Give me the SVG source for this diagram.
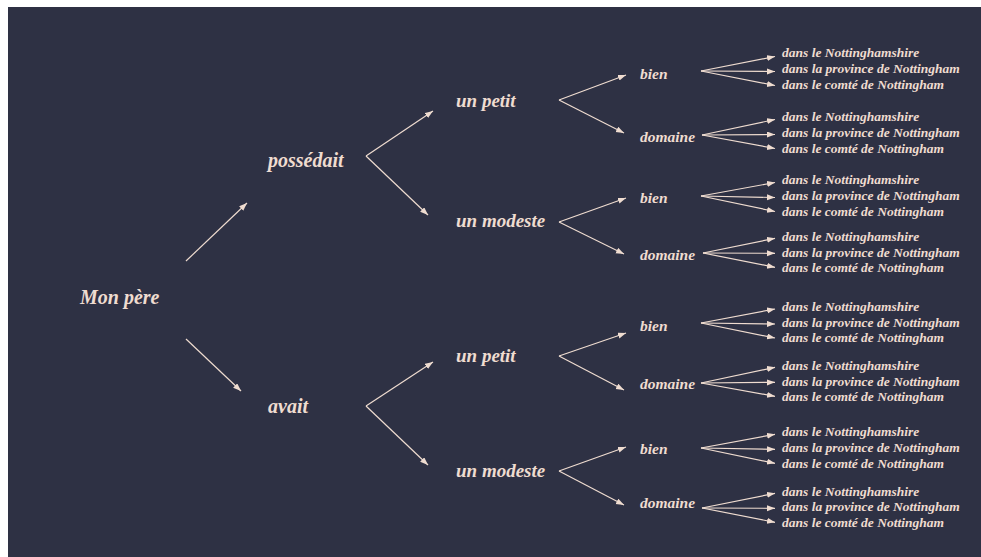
<svg xmlns="http://www.w3.org/2000/svg" width="981" height="557" viewBox="0 0 981 557">
<style>
text{font-family:"Liberation Serif","Times New Roman",serif;font-style:italic;font-weight:bold;fill:#efdcd0}
.l0{font-size:20px}.l2{font-size:19px}.l3{font-size:15.5px}.lf{font-size:13.5px}
#connectors path{stroke:#efdcd0;stroke-width:1.2;fill:none;marker-end:url(#ah)}
</style>
<defs>
<marker id="ah" markerUnits="userSpaceOnUse" markerWidth="9" markerHeight="7" refX="8" refY="3" orient="auto"><path d="M0,0 L8,3 L0,6 z" fill="#efdcd0"/></marker>
</defs>
<rect x="8" y="7" width="973" height="550" fill="#2e3144"/>
<g id="connectors">
<path d="M186,261 L247,203"/><path d="M186,339 L241,391"/>
<path d="M366,156 L433,111"/><path d="M366,156 L428,215"/>
<path d="M366,406 L433,362"/><path d="M366,406 L428,465"/>
<path d="M559,100 L626,75"/><path d="M559,100 L624,133"/>
<path d="M559,222 L626,198"/><path d="M559,222 L624,254"/>
<path d="M559,356 L626,333"/><path d="M559,356 L624,390"/>
<path d="M559,471 L626,447"/><path d="M559,471 L624,505"/>
<path d="M701,71 L775,56.5"/><path d="M701,71 L775,71.5"/><path d="M701,71 L775,85.5"/>
<path d="M702,135 L775,119.5"/><path d="M702,135 L775,134.5"/><path d="M702,135 L775,148.5"/>
<path d="M701,196 L775,182.5"/><path d="M701,196 L775,197.5"/><path d="M701,196 L775,211.5"/>
<path d="M703,253 L775,238.3"/><path d="M703,253 L775,253.3"/><path d="M703,253 L775,267.3"/>
<path d="M701,323 L775,309"/><path d="M701,323 L775,324"/><path d="M701,323 L775,338"/>
<path d="M701,383 L775,367.3"/><path d="M701,383 L775,382.3"/><path d="M701,383 L775,396.3"/>
<path d="M701,448 L775,434.3"/><path d="M701,448 L775,449.3"/><path d="M701,448 L775,463.3"/>
<path d="M702,508 L775,493.3"/><path d="M702,508 L775,508.3"/><path d="M702,508 L775,522.3"/>
</g>
<g id="n-monpere"><text class="l0" x="80" y="304">Mon père</text></g>
<g id="n-possedait"><text class="l0" x="268" y="167">possédait</text></g>
<g id="n-avait"><text class="l0" x="268" y="413">avait</text></g>
<g id="n-petit1"><text class="l2" x="456" y="107">un petit</text></g>
<g id="n-modeste1"><text class="l2" x="456" y="227">un modeste</text></g>
<g id="n-petit2"><text class="l2" x="456" y="362">un petit</text></g>
<g id="n-modeste2"><text class="l2" x="456" y="477">un modeste</text></g>
<g id="n-bien1"><text class="l3" x="640" y="79">bien</text></g>
<g id="n-domaine1"><text class="l3" x="640" y="141.5">domaine</text></g>
<g id="n-bien2"><text class="l3" x="640" y="203.3">bien</text></g>
<g id="n-domaine2"><text class="l3" x="640" y="260">domaine</text></g>
<g id="n-bien3"><text class="l3" x="640" y="331">bien</text></g>
<g id="n-domaine3"><text class="l3" x="640" y="389">domaine</text></g>
<g id="n-bien4"><text class="l3" x="640" y="454">bien</text></g>
<g id="n-domaine4"><text class="l3" x="640" y="508">domaine</text></g>
<g id="leaves1" class="lf"><text class="lf" x="782" y="57.3">dans le Nottinghamshire</text><text class="lf" x="782" y="73.3">dans la province de Nottingham</text><text class="lf" x="782" y="89">dans le comté de Nottingham</text></g>
<g id="leaves2"><text class="lf" x="782" y="121">dans le Nottinghamshire</text><text class="lf" x="782" y="136.7">dans la province de Nottingham</text><text class="lf" x="782" y="152.5">dans le comté de Nottingham</text></g>
<g id="leaves3"><text class="lf" x="782" y="184">dans le Nottinghamshire</text><text class="lf" x="782" y="200">dans la province de Nottingham</text><text class="lf" x="782" y="215.5">dans le comté de Nottingham</text></g>
<g id="leaves4"><text class="lf" x="782" y="241">dans le Nottinghamshire</text><text class="lf" x="782" y="256.5">dans la province de Nottingham</text><text class="lf" x="782" y="272">dans le comté de Nottingham</text></g>
<g id="leaves5"><text class="lf" x="782" y="310.5">dans le Nottinghamshire</text><text class="lf" x="782" y="326.5">dans la province de Nottingham</text><text class="lf" x="782" y="342">dans le comté de Nottingham</text></g>
<g id="leaves6"><text class="lf" x="782" y="370">dans le Nottinghamshire</text><text class="lf" x="782" y="385.5">dans la province de Nottingham</text><text class="lf" x="782" y="401">dans le comté de Nottingham</text></g>
<g id="leaves7"><text class="lf" x="782" y="436">dans le Nottinghamshire</text><text class="lf" x="782" y="452">dans la province de Nottingham</text><text class="lf" x="782" y="467.5">dans le comté de Nottingham</text></g>
<g id="leaves8"><text class="lf" x="782" y="495.5">dans le Nottinghamshire</text><text class="lf" x="782" y="511.3">dans la province de Nottingham</text><text class="lf" x="782" y="526.5">dans le comté de Nottingham</text></g>
</svg>
